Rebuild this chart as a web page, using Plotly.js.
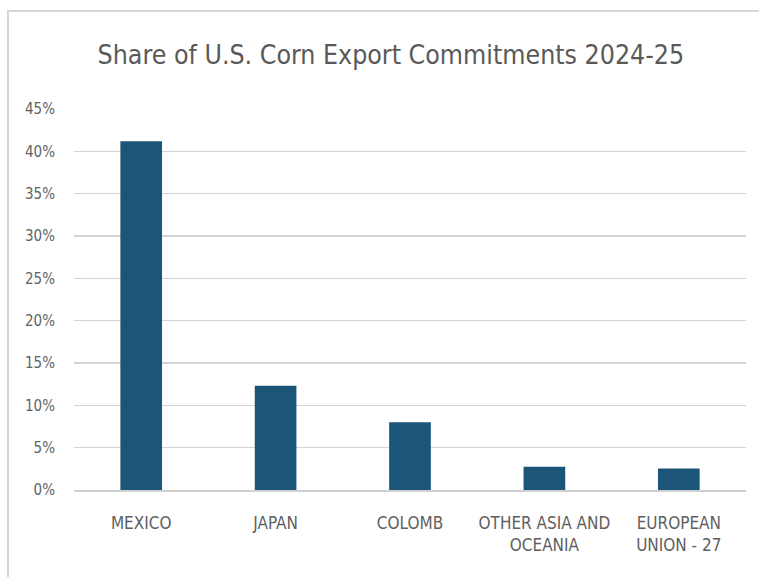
<!DOCTYPE html>
<html>
<head>
<meta charset="utf-8">
<script src="https://cdn.plot.ly/plotly-3.0.1.min.js"></script>
<style>html,body{margin:0;padding:0;background:#fff;}#chart{width:759px;height:577px;}</style>
</head>
<body>
<div id="chart"></div>
<script>
var categories = ["MEXICO", "JAPAN", "COLOMB", "OTHER ASIA AND<br>OCEANIA", "EUROPEAN<br>UNION - 27"];
var shares = [0.412, 0.123, 0.080, 0.0275, 0.0255];
var tickVals = [0, 0.05, 0.10, 0.15, 0.20, 0.25, 0.30, 0.35, 0.40, 0.45];
var tickText = ["0%", "5%", "10%", "15%", "20%", "25%", "30%", "35%", "40%", "45%"];
var chartTitle = "Share of U.S. Corn Export Commitments 2024-25";

var fontFam = "'DejaVu Sans Condensed', 'Roboto', sans-serif";

var trace = {
  type: "bar",
  x: categories,
  y: shares,
  marker: {color: "#1b5679", line: {width: 0}},
  width: 0.31,
  hoverinfo: "skip"
};

var layout = {
  width: 759,
  height: 577,
  margin: {l: 74, r: 13, t: 109, b: 87},
  paper_bgcolor: "#ffffff",
  plot_bgcolor: "#ffffff",
  showlegend: false,
  title: {
    text: chartTitle,
    font: {family: fontFam, size: 26.5, color: "#595959"},
    x: 0.515, xanchor: "center",
    y: 0.905, yanchor: "middle"
  },
  xaxis: {
    type: "category",
    showgrid: false,
    showline: true,
    linecolor: "#d0d0d0",
    linewidth: 1.5,
    ticks: "",
    ticklabelstandoff: 17,
    tickfont: {family: fontFam, size: 17, color: "#5f5f5f"},
    fixedrange: true
  },
  yaxis: {
    range: [0, 0.45],
    tickvals: tickVals,
    ticktext: tickText,
    showgrid: true,
    gridcolor: "#d4d4d4",
    gridwidth: 1.5,
    zeroline: false,
    showline: false,
    ticks: "",
    ticklabelstandoff: 18,
    tickfont: {family: fontFam, size: 15, color: "#636363"},
    fixedrange: true
  },
  shapes: [{
    type: "rect", xref: "paper", yref: "paper",
    x0: -0.0982, x1: 1.03, y0: -0.25, y1: 1.2572,
    line: {color: "#d6d6d6", width: 2}, fillcolor: "rgba(0,0,0,0)", layer: "below"
  }]
};

Plotly.newPlot("chart", [trace], layout, {displayModeBar: false, staticPlot: true});
</script>
</body>
</html>
